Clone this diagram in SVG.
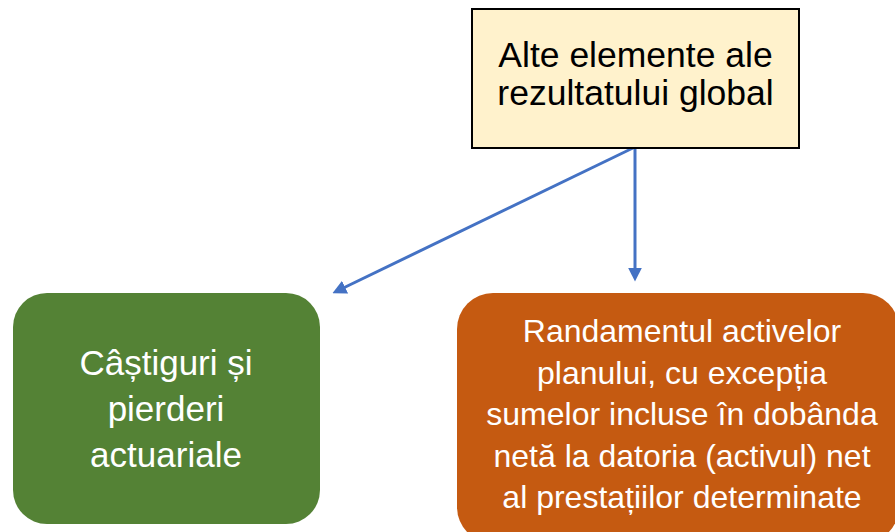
<svg xmlns="http://www.w3.org/2000/svg" width="895" height="532" viewBox="0 0 895 532">
<style>
  .lbl { font-family: "Liberation Sans", Arial, sans-serif; text-anchor: middle; }
  .dark { fill: #000000; font-size: 35.5px; }
  .light { fill: #FFFFFF; }
  .conn { stroke: #4472C4; stroke-width: 3; fill: none; }
</style>
<defs>
  <marker id="ah" markerUnits="userSpaceOnUse" markerWidth="14" markerHeight="14" viewBox="0 0 13 13" refX="5" refY="6.5" orient="auto">
    <path d="M0,0 L13,6.5 L0,13 z" fill="#4472C4"/>
  </marker>
</defs>
<rect width="895" height="532" fill="#FFFFFF"/>
<g id="connectors">
  <line class="conn" x1="635" y1="147" x2="635" y2="273" marker-end="url(#ah)"/>
  <line class="conn" x1="635" y1="147" x2="340.2" y2="289.5" marker-end="url(#ah)"/>
</g>
<g id="node-top">
  <rect x="472" y="9" width="327" height="139" fill="#FFF2CC" stroke="#000000" stroke-width="2"/>
  <text class="lbl dark" x="635.5" y="67">Alte elemente ale</text>
  <text class="lbl dark" x="635.5" y="105">rezultatului global</text>
</g>
<g id="node-green">
  <rect x="13" y="293" width="307" height="231" rx="34" fill="#548235"/>
  <text class="lbl light" font-size="35" x="166" y="375">Câștiguri și</text>
  <text class="lbl light" font-size="35" x="166" y="421">pierderi</text>
  <text class="lbl light" font-size="35" x="166" y="467">actuariale</text>
</g>
<g id="node-orange">
  <rect x="457" y="293" width="442" height="250" rx="36" fill="#C55A11"/>
  <text class="lbl light" font-size="32" x="682" y="342">Randamentul activelor</text>
  <text class="lbl light" font-size="32" x="682" y="383.5">planului, cu excepția</text>
  <text class="lbl light" font-size="32" x="682" y="425">sumelor incluse în dobânda</text>
  <text class="lbl light" font-size="32" x="682" y="466.5">netă la datoria (activul) net</text>
  <text class="lbl light" font-size="32" x="682" y="508">al prestațiilor determinate</text>
</g>
</svg>
